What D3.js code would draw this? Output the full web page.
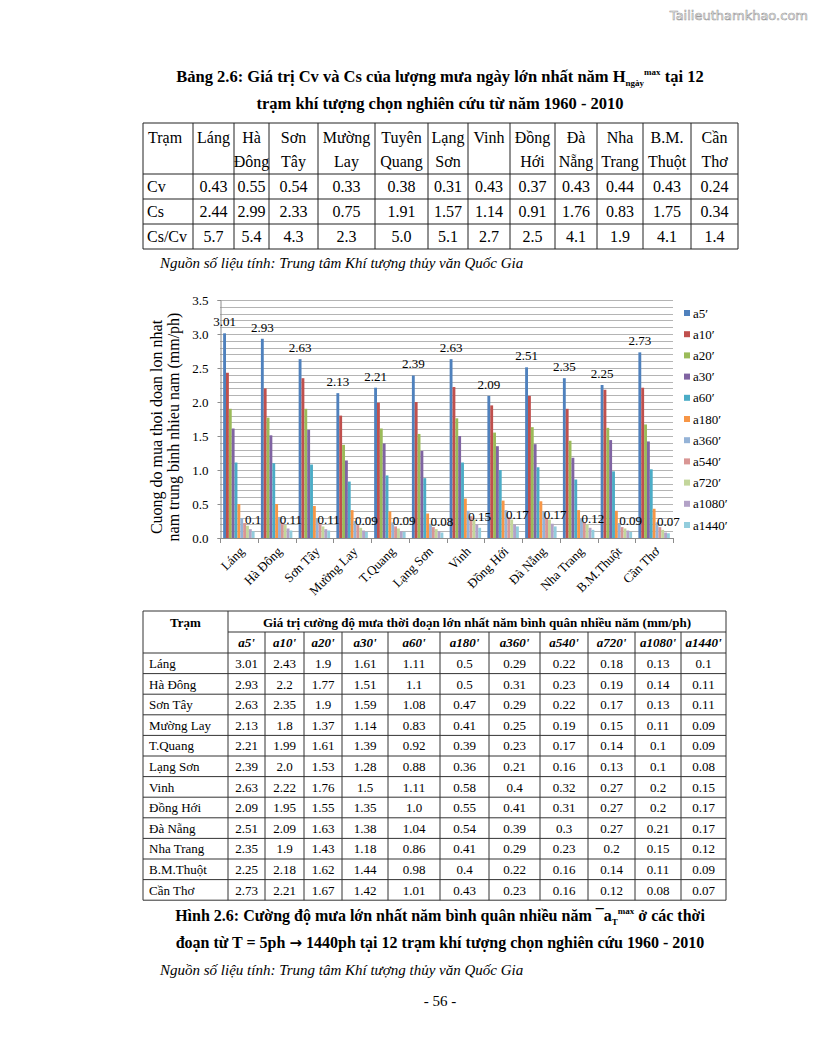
<!DOCTYPE html>
<html>
<head>
<meta charset="utf-8">
<script src="https://cdn.jsdelivr.net/npm/d3@7"></script>
<style>
  body { margin: 0; background: #fff; }
  svg { display: block; font-family: "Liberation Serif", "Times New Roman", serif; }
</style>
</head>
<body>
<div id="page"></div>
<script>
const width = 816;
const height = 1056;

// Table 2.6 data (Cv, Cs)
const stationHeads = [["Láng"], ["Hà", "Đông"], ["Sơn", "Tây"], ["Mường", "Lay"], ["Tuyên", "Quang"], ["Lạng", "Sơn"],
  ["Vinh"], ["Đồng", "Hới"], ["Đà", "Nẵng"], ["Nha", "Trang"], ["B.M.", "Thuột"], ["Cần", "Thơ"]];
const cv = [0.43, 0.55, 0.54, 0.33, 0.38, 0.31, 0.43, 0.37, 0.43, 0.44, 0.43, 0.24];
const cs = [2.44, 2.99, 2.33, 0.75, 1.91, 1.57, 1.14, 0.91, 1.76, 0.83, 1.75, 0.34];
const csCv = [5.7, 5.4, 4.3, 2.3, 5.0, 5.1, 2.7, 2.5, 4.1, 1.9, 4.1, 1.4];

// Figure 2.6 data
const stations = ["Láng", "Hà Đông", "Sơn Tây", "Mường Lay", "T.Quang", "Lạng Sơn", "Vinh", "Đồng Hới", "Đà Nẵng", "Nha Trang", "B.M.Thuột", "Cần Thơ"];
const durations = ["a5′", "a10′", "a20′", "a30′", "a60′", "a180′", "a360′", "a540′", "a720′", "a1080′", "a1440′"];
const a5 = [3.01, 2.93, 2.63, 2.13, 2.21, 2.39, 2.63, 2.09, 2.51, 2.35, 2.25, 2.73];
const a10 = [2.43, 2.2, 2.35, 1.8, 1.99, 2.0, 2.22, 1.95, 2.09, 1.9, 2.18, 2.21];
const a20 = [1.9, 1.77, 1.9, 1.37, 1.61, 1.53, 1.76, 1.55, 1.63, 1.43, 1.62, 1.67];
const a30 = [1.61, 1.51, 1.59, 1.14, 1.39, 1.28, 1.5, 1.35, 1.38, 1.18, 1.44, 1.42];
const a60 = [1.11, 1.1, 1.08, 0.83, 0.92, 0.88, 1.11, 1.0, 1.04, 0.86, 0.98, 1.01];
const a180 = [0.5, 0.5, 0.47, 0.41, 0.39, 0.36, 0.58, 0.55, 0.54, 0.41, 0.4, 0.43];
const a360 = [0.29, 0.31, 0.29, 0.25, 0.23, 0.21, 0.4, 0.41, 0.39, 0.29, 0.22, 0.23];
const a540 = [0.22, 0.23, 0.22, 0.19, 0.17, 0.16, 0.32, 0.31, 0.3, 0.23, 0.16, 0.16];
const a720 = [0.18, 0.19, 0.17, 0.15, 0.14, 0.13, 0.27, 0.27, 0.27, 0.2, 0.14, 0.12];
const a1080 = [0.13, 0.14, 0.13, 0.11, 0.1, 0.1, 0.2, 0.2, 0.21, 0.15, 0.11, 0.08];
const a1440 = [0.1, 0.11, 0.11, 0.09, 0.09, 0.08, 0.15, 0.17, 0.17, 0.12, 0.09, 0.07];
const seriesValues = [a5, a10, a20, a30, a60, a180, a360, a540, a720, a1080, a1440];
const yTicks = [0, 0.5, 1.0, 1.5, 2.0, 2.5, 3.0, 3.5];

const colors = ["#4f81bd", "#c0504d", "#9bbb59", "#8064a2", "#4bacc6", "#f79646",
  "#95b3d7", "#d99694", "#c3d69b", "#b3a2c7", "#93cddd"];

const fmt = v => Number.isInteger(v) ? v.toFixed(1) : String(v);

const svg = d3.select("#page").append("svg")
    .attr("width", width)
    .attr("height", height);

svg.append("rect").attr("width", width).attr("height", height).attr("fill", "#fff");

// watermark
svg.append("text")
    .attr("x", 808).attr("y", 20)
    .attr("text-anchor", "end")
    .style("font-family", "'DejaVu Sans', sans-serif")
    .style("font-size", "13px")
    .attr("fill", "#fff").attr("stroke", "#9a9a9a").attr("stroke-width", 0.6)
    .text("Tailieuthamkhao.com");

// ---- Title of table 2.6
const t1 = svg.append("text").attr("x", 440).attr("y", 82).attr("text-anchor", "middle")
    .style("font-size", "16.5px").style("font-weight", "bold");
t1.append("tspan").text("Bảng 2.6: Giá trị Cv và Cs của lượng mưa ngày lớn nhất năm H");
t1.append("tspan").attr("dy", 4).style("font-size", "9px").text("ngày");
t1.append("tspan").attr("dy", -11).style("font-size", "9px").text("max");
t1.append("tspan").attr("dy", 7).text(" tại 12");
svg.append("text").attr("x", 440).attr("y", 109).attr("text-anchor", "middle")
    .style("font-size", "16.5px").style("font-weight", "bold")
    .text("trạm khí tượng chọn nghiên cứu từ năm 1960 - 2010");

// ---- Table 2.6
const t1Cols = [143, 193, 234, 269, 318, 375, 428, 468, 510, 555, 597, 643, 691, 738];
const t1Rows = [123, 174, 199, 224, 249];
const tab1 = svg.append("g").style("font-size", "16px");
t1Rows.forEach(r => tab1.append("line").attr("x1", t1Cols[0]).attr("x2", t1Cols[t1Cols.length - 1])
    .attr("y1", r).attr("y2", r).attr("stroke", "#222"));
t1Cols.forEach(c => tab1.append("line").attr("x1", c).attr("x2", c)
    .attr("y1", t1Rows[0]).attr("y2", t1Rows[t1Rows.length - 1]).attr("stroke", "#222"));
tab1.append("text").attr("x", 148).attr("y", 143).text("Trạm");
stationHeads.forEach((h, i) => {
  const cx = (t1Cols[i + 1] + t1Cols[i + 2]) / 2;
  h.forEach((line, j) => tab1.append("text").attr("x", cx).attr("y", 143 + j * 24)
      .attr("text-anchor", "middle").text(line));
});
[["Cv", cv], ["Cs", cs], ["Cs/Cv", csCv.map(v => v.toFixed(1))]].forEach(([name, vals], r) => {
  const yy = t1Rows[r + 1] + 18;
  tab1.append("text").attr("x", 147).attr("y", yy).text(name);
  vals.forEach((v, i) => tab1.append("text")
      .attr("x", (t1Cols[i + 1] + t1Cols[i + 2]) / 2).attr("y", yy)
      .attr("text-anchor", "middle").text(v));
});

svg.append("text").attr("x", 160).attr("y", 268)
    .style("font-size", "15px").style("font-style", "italic")
    .text("Nguồn số liệu tính: Trung tâm Khí tượng thủy văn Quốc Gia");

// ---- Chart
const x0 = d3.scaleBand().domain(stations).range([220, 673]);
const x1 = d3.scaleBand().domain(durations).range([0, x0.bandwidth()]).paddingOuter(1.1);
const y = d3.scaleLinear().domain([0, 3.5]).range([538, 300]);

const chart = svg.append("g");

chart.append("g").selectAll("line")
    .data(d3.range(1, 36).map(i => i / 10))
    .enter().append("line")
    .attr("x1", 220).attr("x2", 673)
    .attr("y1", d => Math.round(y(d)) + 0.5).attr("y2", d => Math.round(y(d)) + 0.5)
    .attr("stroke", "#b4b4b4");

const yAxis = chart.append("g")
    .attr("transform", "translate(220.5,0)")
    .call(d3.axisLeft(y).tickValues(yTicks).tickFormat(d3.format(".1f")).tickSize(3).tickPadding(9));
yAxis.select(".domain").attr("stroke", "#8c8c8c");
yAxis.selectAll(".tick line").attr("stroke", "#8c8c8c");
yAxis.selectAll(".tick text").style("font-family", "'Liberation Serif', serif").style("font-size", "13px").attr("fill", "#000");

// x axis baseline and ticks
chart.append("line").attr("x1", 220).attr("x2", 673).attr("y1", 538.5).attr("y2", 538.5).attr("stroke", "#8c8c8c");
chart.append("g").selectAll("line")
    .data(stations.map(s => x0(s)).concat([673]))
    .enter().append("line")
    .attr("x1", d => Math.round(d) + 0.5).attr("x2", d => Math.round(d) + 0.5)
    .attr("y1", 538).attr("y2", 543).attr("stroke", "#8c8c8c");

// bars
const groups = chart.append("g").selectAll("g")
    .data(durations.map((d, i) => ({ key: d, color: colors[i], values: seriesValues[i] })))
    .enter().append("g")
    .attr("fill", d => d.color);
groups.selectAll("rect")
    .data(d => d.values.map((v, j) => ({ key: d.key, station: stations[j], value: v })))
    .enter().append("rect")
    .attr("x", d => x0(d.station) + x1(d.key))
    .attr("width", x1.bandwidth())
    .attr("y", d => y(d.value))
    .attr("height", d => y(0) - y(d.value));

// data labels for a5' and a1440'
[0, durations.length - 1].forEach(k => {
  chart.append("g").selectAll("text")
      .data(seriesValues[k].map((v, j) => ({ station: stations[j], value: v })))
      .enter().append("text")
      .attr("x", d => x0(d.station) + x1(durations[k]) + x1.bandwidth() / 2)
      .attr("y", d => y(d.value) - 7)
      .attr("text-anchor", "middle")
      .style("font-size", "13px")
      .text(d => fmt(d.value));
});

// category labels
chart.append("g").selectAll("text")
    .data(stations)
    .enter().append("text")
    .attr("transform", d => `translate(${x0(d) + x0.bandwidth() / 2 + 3},549) rotate(-45)`)
    .attr("text-anchor", "end")
    .attr("dy", "0.35em")
    .style("font-size", "13px")
    .text(d => d);

// y title
const yt = chart.append("text")
    .attr("transform", "translate(0,427) rotate(-90)")
    .attr("text-anchor", "middle")
    .style("font-size", "16px");
yt.append("tspan").attr("x", 0).attr("y", 162).text("Cuong do mua thoi doan lon nhat");
yt.append("tspan").attr("x", 0).attr("y", 179).text("nam trung binh nhieu nam (mm/ph)");

// legend
const legend = chart.append("g").selectAll("g")
    .data(durations)
    .enter().append("g")
    .attr("transform", (d, i) => `translate(684,${313 + i * 21.2})`);
legend.append("rect").attr("x", 0).attr("y", -3).attr("width", 6).attr("height", 6)
    .attr("fill", (d, i) => colors[i]);
legend.append("text").attr("x", 9).attr("dy", "0.35em").style("font-size", "13px").text(d => d);

// ---- Table of figure values
const t2Cols = [143, 228, 265, 304, 342, 388, 440, 489, 540, 588, 635, 681, 726];
const t2Top = 611, t2H1 = 632, t2H2 = 653, rowH = 20.6;
const t2Bottom = t2H2 + rowH * stations.length;
const tab2 = svg.append("g").style("font-size", "13px");
[t2Top, t2H2].concat(stations.map((s, i) => t2H2 + rowH * (i + 1))).forEach(r =>
  tab2.append("line").attr("x1", 143).attr("x2", 726).attr("y1", r).attr("y2", r).attr("stroke", "#333"));
tab2.append("line").attr("x1", 228).attr("x2", 726).attr("y1", t2H1).attr("y2", t2H1).attr("stroke", "#333");
t2Cols.forEach((c, i) => tab2.append("line").attr("x1", c).attr("x2", c)
    .attr("y1", (i > 1 && i < t2Cols.length - 1) ? t2H1 : t2Top).attr("y2", t2Bottom).attr("stroke", "#333"));
tab2.append("text").attr("x", (143 + 228) / 2).attr("y", 627).attr("text-anchor", "middle")
    .style("font-weight", "bold").text("Trạm");
tab2.append("text").attr("x", (228 + 726) / 2).attr("y", 627).attr("text-anchor", "middle")
    .style("font-weight", "bold").text("Giá trị cường độ mưa thời đoạn lớn nhất năm bình quân nhiều năm (mm/ph)");
durations.forEach((d, i) => tab2.append("text")
    .attr("x", (t2Cols[i + 1] + t2Cols[i + 2]) / 2).attr("y", 647).attr("text-anchor", "middle")
    .style("font-weight", "bold").style("font-style", "italic").text(d.replace("′", "'")));
stations.forEach((s, r) => {
  const yy = t2H2 + rowH * r + 15;
  tab2.append("text").attr("x", 149).attr("y", yy).text(s);
  seriesValues.forEach((vals, i) => tab2.append("text")
      .attr("x", (t2Cols[i + 1] + t2Cols[i + 2]) / 2).attr("y", yy)
      .attr("text-anchor", "middle").text(fmt(vals[r])));
});

// ---- Figure caption
const c1 = svg.append("text").attr("x", 440).attr("y", 921).attr("text-anchor", "middle")
    .style("font-size", "16px").style("font-weight", "bold");
c1.append("tspan").text("Hình 2.6: Cường độ mưa lớn nhất năm bình quân nhiều năm ");
c1.append("tspan").text("¯a");
c1.append("tspan").attr("dy", 4).style("font-size", "9px").text("T");
c1.append("tspan").attr("dy", -11).style("font-size", "9px").text("max");
c1.append("tspan").attr("dy", 7).text(" ở các thời");
const c2 = svg.append("text").attr("x", 440).attr("y", 948).attr("text-anchor", "middle")
    .style("font-size", "16px").style("font-weight", "bold");
c2.append("tspan").text("đoạn từ T = 5ph ");
c2.append("tspan").style("font-family", "'DejaVu Sans', sans-serif").style("font-size", "15px").text("→");
c2.append("tspan").text(" 1440ph tại 12 trạm khí tượng chọn nghiên cứu 1960 - 2010");
svg.append("text").attr("x", 160).attr("y", 975)
    .style("font-size", "15px").style("font-style", "italic")
    .text("Nguồn số liệu tính: Trung tâm Khí tượng thủy văn Quốc Gia");
svg.append("text").attr("x", 440).attr("y", 1006).attr("text-anchor", "middle")
    .style("font-size", "15px").text("- 56 -");
</script>
</body>
</html>
